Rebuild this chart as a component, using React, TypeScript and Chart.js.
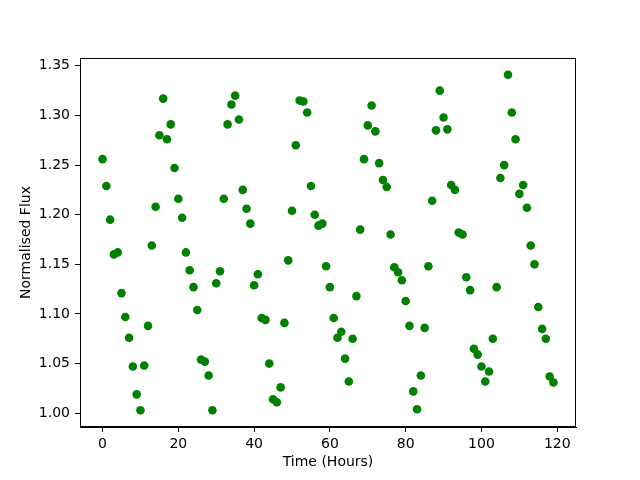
import React, { useEffect, useRef } from "react";
import { Chart, registerables } from "chart.js";

Chart.register(...registerables);

const hours: number[] = Array.from({ length: 120 }, (_, i) => i);

const flux: number[] = [
  1.256, 1.229, 1.195, 1.160, 1.162, 1.121, 1.097, 1.076, 1.047, 1.019,
  1.003, 1.048, 1.088, 1.169, 1.208, 1.280, 1.317, 1.276, 1.291, 1.247,
  1.216, 1.197, 1.162, 1.144, 1.127, 1.104, 1.054, 1.052, 1.038, 1.003,
  1.131, 1.143, 1.216, 1.291, 1.311, 1.320, 1.296, 1.225, 1.206, 1.191,
  1.129, 1.140, 1.096, 1.094, 1.050, 1.014, 1.011, 1.026, 1.091, 1.154,
  1.204, 1.270, 1.315, 1.314, 1.303, 1.229, 1.200, 1.189, 1.191, 1.148,
  1.127, 1.096, 1.076, 1.082, 1.055, 1.032, 1.075, 1.118, 1.185, 1.256,
  1.290, 1.310, 1.284, 1.252, 1.235, 1.228, 1.180, 1.147, 1.142, 1.134,
  1.113, 1.088, 1.022, 1.004, 1.038, 1.086, 1.148, 1.214, 1.285, 1.325,
  1.298, 1.286, 1.230, 1.225, 1.182, 1.180, 1.137, 1.124, 1.065, 1.059,
  1.047, 1.032, 1.042, 1.075, 1.127, 1.237, 1.250, 1.341, 1.303, 1.276,
  1.221, 1.230, 1.207, 1.169, 1.150, 1.107, 1.085, 1.075, 1.037, 1.031,
];

const xTicks: number[] = [0, 20, 40, 60, 80, 100, 120];
const yTicks: number[] = [1.0, 1.05, 1.1, 1.15, 1.2, 1.25, 1.3, 1.35];

const xTitle = "Time (Hours)";
const yTitle = "Normalised Flux";

const FONT = "'DejaVu Sans', sans-serif";

export default function App() {
  const ref = useRef<HTMLCanvasElement | null>(null);

  useEffect(() => {
    if (!ref.current) return;
    const xMinD = Math.min(...hours);
    const xMaxD = Math.max(...hours);
    const yMinD = Math.min(...flux);
    const yMaxD = Math.max(...flux);
    const xm = (xMaxD - xMinD) * 0.05;
    const ym = (yMaxD - yMinD) * 0.05;

    const frame = {
      id: "frame",
      afterDraw(chart: any) {
        const { ctx, chartArea: a } = chart;
        ctx.save();
        ctx.strokeStyle = "#000";
        ctx.lineWidth = 1;
        ctx.strokeRect(a.left + 0.5, a.top + 0.5, a.right - a.left - 1, a.bottom - a.top - 1);
        ctx.restore();
      },
    };

    const chart = new Chart(ref.current, {
      type: "scatter",
      data: {
        datasets: [
          {
            data: hours.map((h, i) => ({ x: h, y: flux[i] })),
            backgroundColor: "#008000",
            borderColor: "#008000",
            borderWidth: 0,
            pointRadius: 4.3,
            pointHoverRadius: 4.3,
          },
        ],
      },
      plugins: [frame],
      options: {
        animation: false,
        responsive: false,
        layout: { padding: { left: 0, top: 58, right: 64, bottom: 0 } },
        plugins: { legend: { display: false }, tooltip: { enabled: false } },
        scales: {
          x: {
            type: "linear",
            min: xMinD - xm,
            max: xMaxD + xm,
            afterBuildTicks: (s: any) => {
              s.ticks = xTicks.map((v) => ({ value: v }));
            },
            afterFit: (s: any) => {
              s.height = 53;
            },
            grid: {
              drawOnChartArea: false,
              drawTicks: true,
              tickLength: 5,
              tickColor: "#000",
            },
            border: { display: true, color: "#000" },
            ticks: {
              color: "#000",
              font: { family: FONT, size: 14 },
              padding: 4,
              maxRotation: 0,
              callback: (v: any) => String(v),
            },
            title: {
              display: true,
              text: xTitle,
              color: "#000",
              font: { family: FONT, size: 14 },
              padding: { top: 0, bottom: 9 },
            },
          },
          y: {
            type: "linear",
            min: yMinD - ym,
            max: yMaxD + ym,
            afterBuildTicks: (s: any) => {
              s.ticks = yTicks.map((v) => ({ value: v }));
            },
            afterFit: (s: any) => {
              s.width = 80;
            },
            grid: {
              drawOnChartArea: false,
              drawTicks: true,
              tickLength: 5,
              tickColor: "#000",
            },
            border: { display: true, color: "#000" },
            ticks: {
              color: "#000",
              font: { family: FONT, size: 14 },
              padding: 5,
              callback: (v: any) => Number(v).toFixed(2),
            },
            title: {
              display: true,
              text: yTitle,
              color: "#000",
              font: { family: FONT, size: 14 },
              padding: { top: 18, bottom: 0 },
            },
          },
        },
      },
    } as any);
    return () => chart.destroy();
  }, []);

  return (
    <div style={{ position: "fixed", left: 0, top: 0, width: 640, height: 480, background: "#fff" }}>
      <canvas ref={ref} width={640} height={480} style={{ width: 640, height: 480 }} />
    </div>
  );
}
